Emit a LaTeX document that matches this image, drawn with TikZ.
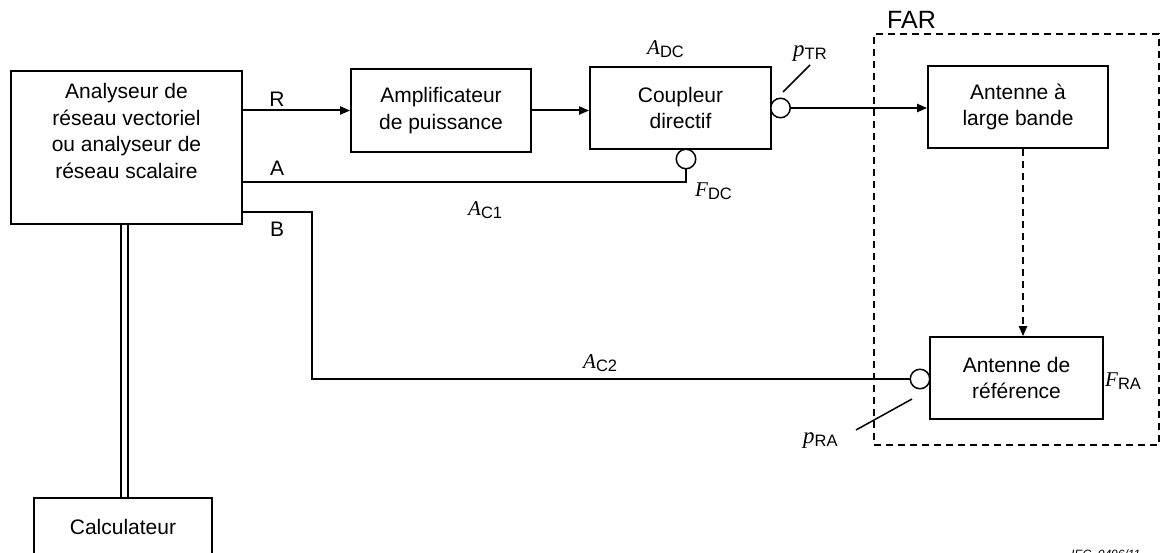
\documentclass[tikz,border=0pt]{standalone}
\usepackage{fontspec}
\setmainfont{Liberation Sans}
\newfontfamily\tnr{Liberation Serif}
\usetikzlibrary{arrows.meta,calc}
\newcommand{\symlab}[2]{{\tnr\itshape #1}\raisebox{-3pt}{\fontsize{16.5}{16.5}\selectfont #2}}
\begin{document}
\begin{tikzpicture}[x=1pt,y=-1pt,
  every node/.style={font=\fontsize{21}{26.5}\selectfont},
  box/.style={draw, line width=1.7, inner sep=0, align=center},
  arr/.style={line width=2, -{Triangle[length=10pt,width=8pt]}},
  wire/.style={line width=1.6},
  port/.style={circle, draw, line width=1.5, fill=white, minimum size=19.5, inner sep=0},
  lbl/.style={inner sep=0},
  leader/.style={line width=1.5}]
\clip (0,0) rectangle (1164,553);
% FAR zone
\node[draw, line width=1.6, dash pattern=on 7pt off 5pt, minimum width=285, minimum height=411, inner sep=0] (far) at (1016.5,239.5) {};
\node[lbl, anchor=base west, font=\fontsize{25}{25}\selectfont] (farl) at (887,29) {FAR};
% boxes
\node[box, minimum width=231, minimum height=153] (an) at (126.5,147.5) {};
\node[lbl, align=center] (ant) at (126.5,131) {Analyseur de\\réseau vectoriel\\ou analyseur de\\réseau scalaire};
\node[box, minimum width=180, minimum height=83] (amp) at (441,110.5) {Amplificateur\\de puissance};
\node[box, minimum width=181, minimum height=82] (cd) at (680.5,108) {Coupleur\\directif};
\node[box, minimum width=180, minimum height=82] (alb) at (1018,107) {Antenne à\\large bande};
\node[box, minimum width=173, minimum height=82] (rref) at (1016.5,378) {Antenne de\\référence};
\node[box, minimum width=178, minimum height=58] (calc) at (123,527) {Calculateur};
% ports
\node[port] (pdc) at (686,159) {};
\node[port] (ptr) at (780.5,108) {};
\node[port] (pra) at (920,379) {};
% connectors
\coordinate (aend) at (242,182);
\coordinate (bst) at (242,212);
\coordinate (bk) at (312,212);
\draw[arr] (an.east |- amp.west) -- (amp.west);
\draw[arr] (amp.east) -- (cd.west |- amp.east);
\draw[arr] (ptr.east) -- (alb.west |- ptr.east);
\draw[wire] (pdc.south) |- (aend);
\draw[wire] (bst) -- (bk) |- (pra.west);
\draw[arr, dash pattern=on 7pt off 5pt] ([xshift=5]alb.south) -- ([xshift=5]alb.south |- rref.north);
\draw[wire] ([xshift=-5.5]an.south) -- ([xshift=-2]calc.north);
\draw[wire] ([xshift=1.5]an.south) -- ([xshift=5]calc.north);
% leader lines
\draw[leader] ($(ptr)+(2.5,-16)$) -- ($(ptr)+(29.5,-43)$);
\draw[leader] ($(pra)+(-8,20)$) -- ($(pra)+(-64,51)$);
% labels
\node[lbl, anchor=base] (lr) at (277,107) {R};
\node[lbl, anchor=base] (la) at (277,176) {A};
\node[lbl, anchor=base] (lb) at (277,237) {B};
\node[lbl, anchor=base west] (ladc) at (647,55) {\symlab{A}{DC}};
\node[lbl, anchor=base west] (lfdc) at (695,197) {\symlab{F}{DC}};
\node[lbl, anchor=base west] (lac1) at (468,216) {\symlab{A}{C1}};
\node[lbl, anchor=base west] (lac2) at (583,368) {\symlab{A}{C2}};
\node[lbl, anchor=base west, font=\fontsize{23}{23}\selectfont] (lptr) at (793,57) {\symlab{p}{TR}};
\node[lbl, anchor=base west, font=\fontsize{23}{23}\selectfont] (lpra) at (803,443) {\symlab{p}{RA}};
\node[lbl, anchor=base west] (lfra) at (1105,386) {\symlab{F}{RA}};
\node[lbl, anchor=base west, font=\fontsize{12}{12}\selectfont\itshape] (iec) at (1071,558) {IEC\ \ 0496/11};
\end{tikzpicture}
\end{document}
